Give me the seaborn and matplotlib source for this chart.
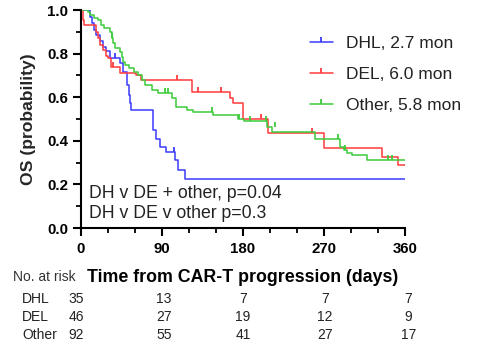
import numpy as np
import pandas as pd
import seaborn as sns
import matplotlib
matplotlib.use("Agg")
import matplotlib.pyplot as plt
from matplotlib.path import Path
from matplotlib.lines import Line2D
from matplotlib.transforms import blended_transform_factory

# ---------------- data ----------------
groups = ["DHL", "DEL", "Other"]
legend_labels = ["DHL, 2.7 mon", "DEL, 6.0 mon", "Other, 5.8 mon"]
colors = ["#3b3bff", "#ff3b3b", "#3bcc3b"]

dhl_t = [0, 10, 12, 14, 17, 21, 24, 28, 32, 43, 47, 51, 53, 54, 56, 80, 83, 88, 94, 104, 108, 115, 360]
dhl_s = [1.0, 0.97, 0.94, 0.91, 0.885, 0.86, 0.83, 0.81, 0.78, 0.757, 0.716, 0.656, 0.61, 0.573, 0.54,
         0.45, 0.41, 0.37, 0.35, 0.31, 0.266, 0.225, 0.225]
dhl_cens_t = [38, 103]
dhl_cens_s = [0.78, 0.35]

del_t = [0, 2, 3, 17, 19, 21, 24, 28, 30, 33, 43, 61, 67, 123, 165, 169, 180, 208, 270, 334, 352, 360]
del_s = [1.0, 0.955, 0.93, 0.90, 0.87, 0.84, 0.817, 0.79, 0.78, 0.74, 0.71, 0.70, 0.68, 0.625, 0.596,
         0.573, 0.50, 0.435, 0.365, 0.326, 0.29, 0.29]
del_cens_t = [35, 107, 130, 155, 200, 257]
del_cens_s = [0.74, 0.68, 0.625, 0.625, 0.50, 0.435]

oth_t = [0, 8, 10, 14, 19, 22, 26, 32, 34, 36, 38, 43, 45, 47, 49, 53, 59, 63, 68, 71, 79, 86, 101, 106,
         118, 124, 147, 174, 181, 207, 212, 260, 288, 292, 295, 301, 318, 360]
oth_s = [1.0, 0.99, 0.977, 0.965, 0.955, 0.93, 0.917, 0.90, 0.87, 0.85, 0.825, 0.807, 0.784, 0.76, 0.748,
         0.734, 0.716, 0.70, 0.68, 0.656, 0.633, 0.62, 0.596, 0.555, 0.541, 0.53, 0.52, 0.50, 0.49,
         0.465, 0.44, 0.41, 0.37, 0.358, 0.345, 0.335, 0.31, 0.31]
oth_cens_t = [34, 93, 97, 145, 175, 188, 205, 216, 286, 293, 341, 345]
oth_cens_s = [0.87, 0.62, 0.62, 0.532, 0.50, 0.49, 0.49, 0.465, 0.41, 0.358, 0.31, 0.31]

risk_days = [0, 90, 180, 270, 360]
risk_dhl = [35, 13, 7, 7, 7]
risk_del = [46, 27, 19, 12, 9]
risk_oth = [92, 55, 41, 27, 17]

x_ticks = [0, 90, 180, 270, 360]
y_ticks = [0.0, 0.2, 0.4, 0.6, 0.8, 1.0]

# ---------------- build ----------------
sns.set_theme(style="white")
plt.rcParams["font.family"] = ["Liberation Sans", "DejaVu Sans"]

curves = pd.concat([
    pd.DataFrame({"t": dhl_t, "s": dhl_s, "g": "DHL"}),
    pd.DataFrame({"t": del_t, "s": del_s, "g": "DEL"}),
    pd.DataFrame({"t": oth_t, "s": oth_s, "g": "Other"}),
], ignore_index=True)
cens = [(dhl_cens_t, dhl_cens_s), (del_cens_t, del_cens_s), (oth_cens_t, oth_cens_s)]

fig = plt.figure(figsize=(4.83, 3.51), dpi=100)
ax = fig.add_axes([81 / 483, 1 - 228 / 351, 324 / 483, 218 / 351])

tick_marker = Path([(0, 0), (0, 1)])
palette = dict(zip(groups, colors))
for g, (ct, cs) in zip(groups, cens):
    sub = curves[curves.g == g]
    sns.lineplot(data=sub, x="t", y="s", color=palette[g], drawstyle="steps-post",
                 estimator=None, sort=False, ax=ax, lw=1.1, legend=False)
    ax.plot(ct, cs, linestyle="none", marker=tick_marker, markersize=7,
            markeredgewidth=1.3, color=palette[g])

ax.set_xlim(0, 360)
ax.set_ylim(0, 1.0)
ax.set_xticks(x_ticks)
ax.set_yticks(y_ticks)
ax.set_xticks(np.arange(0, 361, 30), minor=True)
ax.set_yticks(np.arange(0, 1.01, 0.1), minor=True)
ax.set_yticklabels([f"{v:.1f}" for v in y_ticks])
for sp in ["top", "right"]:
    ax.spines[sp].set_visible(False)
for sp in ["left", "bottom"]:
    ax.spines[sp].set_linewidth(1.5)
    ax.spines[sp].set_color("black")
ax.tick_params(which="major", direction="out", length=5.8, width=1.5, colors="black",
               labelsize=10.8)
ax.tick_params(axis="x", which="major", pad=4.5)
ax.tick_params(axis="y", which="major", pad=3.5)
ax.tick_params(which="minor", direction="out", length=3.6, width=1.3, colors="black")
ax.tick_params(axis="both", which="both", bottom=True, left=True)
for lab in ax.get_xticklabels() + ax.get_yticklabels():
    lab.set_fontweight("bold")

ax.set_xlabel("")
ax.set_ylabel("OS (probability)", fontsize=12.6, fontweight="bold", va="center")
ax.yaxis.set_label_coords((29 - 81) / 324, 0.5)
fig.text(243 / 483, 1 - 277 / 351, "Time from CAR-T progression (days)", ha="center", va="center",
         fontsize=12.8, fontweight="bold", color="black")
fig.text(13 / 483, 1 - 277 / 351, "No. at risk", ha="left", va="center", fontsize=10,
         color="#333333")

ax.text((89 - 81) / 324, (228 - 194) / 218, "DH v DE + other, p=0.04", transform=ax.transAxes,
        fontsize=12.7, ha="left", va="center", color="#222222")
ax.text((89 - 81) / 324, (228 - 214) / 218, "DH v DE v other p=0.3", transform=ax.transAxes,
        fontsize=12.7, ha="left", va="center", color="#222222")

handles = [Line2D([0, 0.5, 1], [0, 0, 0], color=c, lw=1.1, marker=tick_marker, markersize=7,
                  markeredgewidth=1.3, markevery=[1]) for c in colors]
leg = fig.legend(handles, legend_labels, loc="upper left",
                 bbox_to_anchor=(310 / 483, 1 - 36 / 351), frameon=False, fontsize=12.5,
                 handlelength=1.32, handletextpad=0.75, labelspacing=0.92, borderpad=0,
                 borderaxespad=0)
for t in leg.get_texts():
    t.set_color("#222222")

trans = blended_transform_factory(ax.transData, fig.transFigure)
col_offsets = [-5, 2, 0, 1, 4]
rows_y = [299, 317, 335]
for name, vals, yy in zip(groups, [risk_dhl, risk_del, risk_oth], rows_y):
    fig.text(22 / 483, 1 - yy / 351, name, ha="left", va="center", fontsize=10, color="#222222")
    for d, off, v in zip(risk_days, col_offsets, vals):
        ax.text(d + off, 1 - yy / 351, str(v), transform=trans,
                ha="center", va="center", fontsize=10, color="#222222")

fig.savefig("out.png", dpi=100)
